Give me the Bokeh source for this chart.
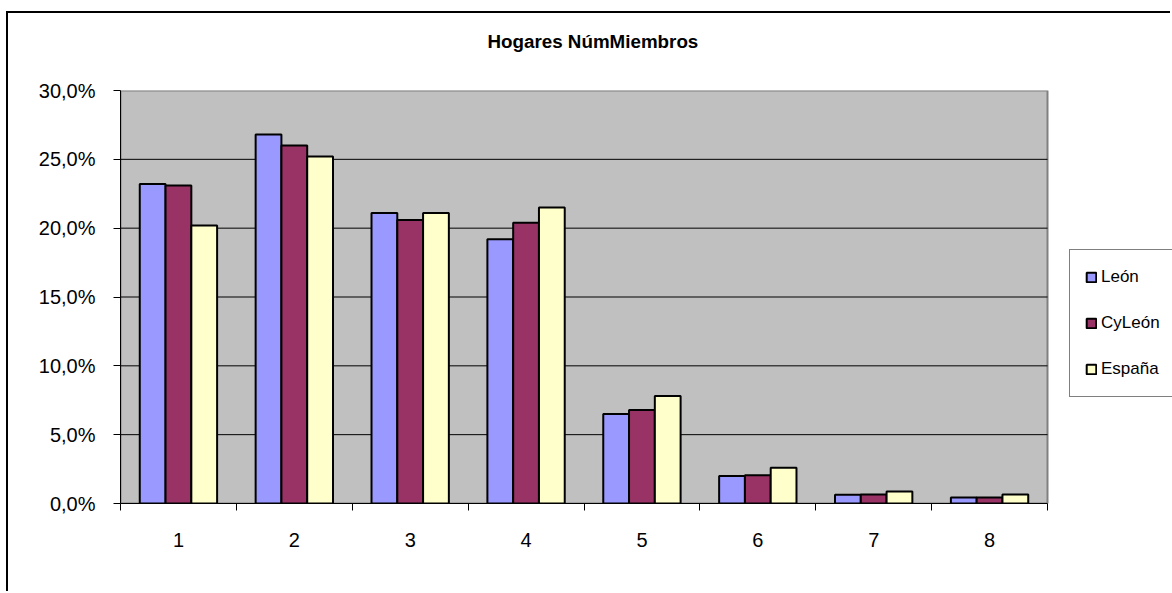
from bokeh.plotting import figure
from bokeh.models import FixedTicker, Legend, LegendItem, Title
from bokeh.embed import file_html
from bokeh.resources import INLINE

categories = ["1", "2", "3", "4", "5", "6", "7", "8"]
leon = [23.2, 26.8, 21.1, 19.2, 6.5, 2.0, 0.63, 0.43]
cyleon = [23.1, 26.0, 20.6, 20.4, 6.8, 2.05, 0.65, 0.43]
espana = [20.2, 25.2, 21.1, 21.5, 7.8, 2.6, 0.87, 0.65]
series_names = ["León", "CyLeón", "España"]
series_colors = ["#9999FF", "#993366", "#FFFFCC"]
y_ticks = [0, 5, 10, 15, 20, 25, 30]
y_tick_labels = ["0,0%", "5,0%", "10,0%", "15,0%", "20,0%", "25,0%", "30,0%"]
title_text = "Hogares NúmMiembros"

FONT = "Liberation Sans, Arial, sans-serif"

W, H = 1164, 580
LEFT, TOP, BOTTOM = 112, 77, 90
PLOT_W = 927  # pixel width of the grey plot area
n = len(categories)
x_end = n * (W - LEFT) / PLOT_W
y_max = y_ticks[-1]

p = figure(width=W, height=H, output_backend="svg", toolbar_location=None,
           x_range=(0, x_end), y_range=(0, y_max),
           min_border_left=LEFT, min_border_right=0, min_border_top=TOP, min_border_bottom=BOTTOM)
p.styles = {"border-left": "2px solid black", "border-top": "2px solid black",
            "margin-left": "6px", "margin-top": "11px"}

p.background_fill_color = "white"
p.border_fill_color = "white"
p.outline_line_color = None

# grey plot area
p.quad(left=[0], right=[n], bottom=[0], top=[y_max], fill_color="#C0C0C0",
       line_color="#808080", line_width=2)
# horizontal grid lines only across the plot area
grid_y = y_ticks[1:-1]
p.segment(x0=[0] * len(grid_y), x1=[n] * len(grid_y), y0=grid_y, y1=grid_y,
          line_color="black", line_width=1)

centers = [i + 0.5 for i in range(n)]
bw = 0.2225
offsets = [-bw, 0, bw]
renderers = []
for vals, off, col in zip([leon, cyleon, espana], offsets, series_colors):
    r = p.vbar(x=[c + off for c in centers], top=vals, width=bw, bottom=0,
               fill_color=col, line_color="black", line_width=2)
    renderers.append(r)

# x axis
p.xaxis.bounds = (0, n)
p.xaxis.ticker = FixedTicker(ticks=centers, minor_ticks=list(range(n + 1)))
p.xaxis.major_label_overrides = {c: lab for c, lab in zip(centers, categories)}
p.xaxis.major_tick_out = 0
p.xaxis.major_tick_in = 0
p.xaxis.minor_tick_out = 7
p.xaxis.minor_tick_in = 0
p.xaxis.minor_tick_line_color = "black"
p.xaxis.axis_line_color = "black"
p.xaxis.major_label_text_font = FONT
p.xaxis.major_label_text_font_size = "20px"
p.xaxis.major_label_text_color = "black"
p.xaxis.major_label_standoff = 22

# y axis
p.yaxis.ticker = FixedTicker(ticks=y_ticks, minor_ticks=[])
p.yaxis.major_label_overrides = {t: lab for t, lab in zip(y_ticks, y_tick_labels)}
p.yaxis.major_tick_out = 7
p.yaxis.major_tick_in = 0
p.yaxis.major_tick_line_color = "black"
p.yaxis.axis_line_color = "black"
p.yaxis.major_label_text_font = FONT
p.yaxis.major_label_text_font_size = "20px"
p.yaxis.major_label_text_color = "black"
p.yaxis.major_label_standoff = 18

p.xgrid.grid_line_color = None
p.ygrid.grid_line_color = None

# spacer between the plot area and the title
spacer = Title(text=" ", text_font=FONT, text_font_size="1px", standoff=36)
p.add_layout(spacer, "above")
t = Title(text=title_text, align="left", text_font=FONT,
          text_font_size="18.8px", text_font_style="bold", text_color="black",
          standoff=0, offset=367)
p.add_layout(t, "above")

legend = Legend(items=[LegendItem(label=nm, renderers=[r]) for nm, r in zip(series_names, renderers)],
                location=(949, 106), orientation="vertical",
                label_text_font=FONT, label_text_font_size="17px", label_text_color="black",
                glyph_width=12, glyph_height=12, label_height=24, label_standoff=4,
                spacing=22, padding=15, margin=0,
                border_line_color="black", border_line_width=1,
                background_fill_color="white", background_fill_alpha=1)
p.add_layout(legend, "center")

open("out.html", "w").write(file_html(p, INLINE))
